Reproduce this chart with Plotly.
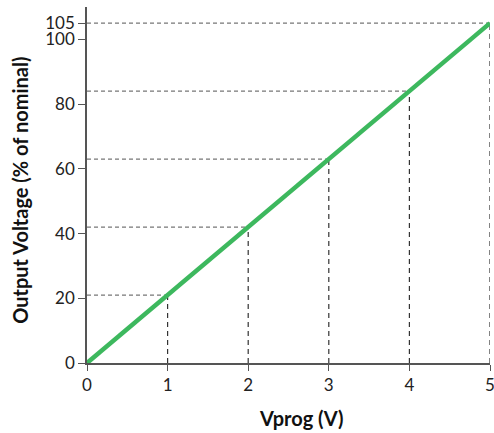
import plotly.graph_objects as go

vprog = [0, 1, 2, 3, 4, 5]
vout = [0, 21, 42, 63, 84, 105]
x_ticks = [0, 1, 2, 3, 4, 5]
y_ticks = [0, 20, 40, 60, 80, 100, 105]

GREEN = "#3DB85E"
FONT = "Lato, 'Noto Sans', sans-serif"

fig = go.Figure()

# horizontal dashed guides (y-axis to line)
hx, hy = [], []
for xv, yv in zip(vprog[1:], vout[1:]):
    hx += [0, xv, None]
    hy += [yv, yv, None]
fig.add_trace(go.Scatter(x=hx, y=hy, mode="lines",
                         line=dict(color="#777777", width=1.2, dash="4px,3px"),
                         hoverinfo="skip", showlegend=False))

# vertical dashed guides (x-axis to line)
vx, vy = [], []
for xv, yv in zip(vprog[1:], vout[1:]):
    vx += [xv, xv, None]
    vy += [0, yv, None]
fig.add_trace(go.Scatter(x=vx, y=vy, mode="lines",
                         line=dict(color="#333333", width=1.2, dash="5px,4px"),
                         hoverinfo="skip", showlegend=False))

fig.add_trace(go.Scatter(x=vprog, y=vout, mode="lines",
                         line=dict(color=GREEN, width=4.5),
                         cliponaxis=False, showlegend=False))

fig.update_layout(
    width=494, height=433,
    margin=dict(l=87, r=4, t=7, b=70, autoexpand=False),
    paper_bgcolor="white", plot_bgcolor="white",
    font=dict(family=FONT, size=17, color="#222222"),
    xaxis=dict(range=[0, 5], tickvals=x_ticks, ticktext=[str(v) for v in x_ticks],
               showgrid=False, zeroline=False, showline=True, linecolor="#555555",
               linewidth=1.5, ticks="outside", ticklen=6, tickcolor="#555555",
               tickwidth=1.2, tickfont=dict(size=17), ticklabeloverflow="allow",
               automargin=False),
    yaxis=dict(range=[0, 110], tickvals=y_ticks, ticktext=[str(v) for v in y_ticks],
               showgrid=False, zeroline=False, showline=True, linecolor="#555555",
               linewidth=1.5, ticks="outside", ticklen=7, tickcolor="#555555",
               tickwidth=1.2, tickfont=dict(size=17), automargin=False),
    annotations=[
        dict(text="<b>Vprog (V)</b>", xref="paper", yref="paper", x=0.531, y=-0.155,
             xanchor="center", yanchor="middle", showarrow=False,
             font=dict(size=20, family=FONT, color="#111111")),
        dict(text="<b>Output Voltage (% of nominal)</b>", xref="paper", yref="paper",
             x=-0.165, y=0.485, xanchor="center", yanchor="middle", textangle=-90,
             showarrow=False, font=dict(size=20, family=FONT, color="#111111")),
    ],
)

fig.write_html("out.html", config={"displayModeBar": False},
               post_script="document.body.style.margin='0px';")
